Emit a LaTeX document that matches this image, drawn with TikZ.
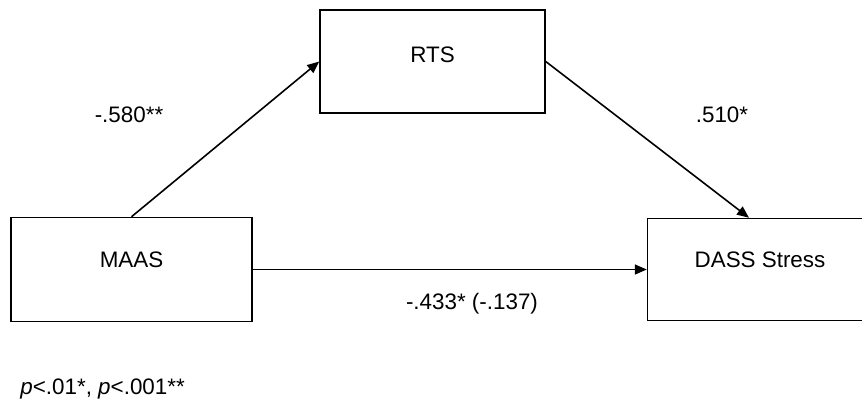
\documentclass[tikz,border=0pt]{standalone}
\usepackage{xcolor}
\usepackage{fontspec}
\setmainfont{Liberation Sans}
\usetikzlibrary{arrows.meta}

\begin{document}
\begin{tikzpicture} [x=0.5pt, y=-0.5pt,
    var/.style={ draw, line width=0.75pt, minimum width=112.5pt, minimum height=51.5pt, text depth=10pt, inner sep=0pt },
    path/.style={ line width=0.8pt, -{Triangle[length=6pt,width=5pt]} },
    coef/.style={ inner sep=0pt } ]
    \useasboundingbox (0,0) rectangle (862,398);
    \fontsize{11.2}{13}\selectfont

    % the three variables
    \node [var, text depth=6.5pt] (rts) at (432.5,61.5) {RTS};
    \node [var, minimum width=120.5pt, minimum height=52pt] (maas) at (131.5,269.5) {MAAS};
    \node [var, minimum height=51pt] (dass) at (760,269.5) {DASS Stress};

    \draw [path] (maas.north) -- (rts.west);
    \draw [path] (rts.east) -- ([xshift=-5.5pt]dass.north);
    \draw [path] (maas.east) -- (dass.west);

    % path coefficients
    \node [coef] (a) at (129,115) {-.580**};
    \node [coef] (b) at (722,115) {.510*};
    \node [coef] (c) at (472,304) {-.433* (-.137)};
    \node [coef, anchor=base west] (sig) at (20,394) {\textit{p}<.01*, \textit{p}<.001**};
\end{tikzpicture}
\end{document}
